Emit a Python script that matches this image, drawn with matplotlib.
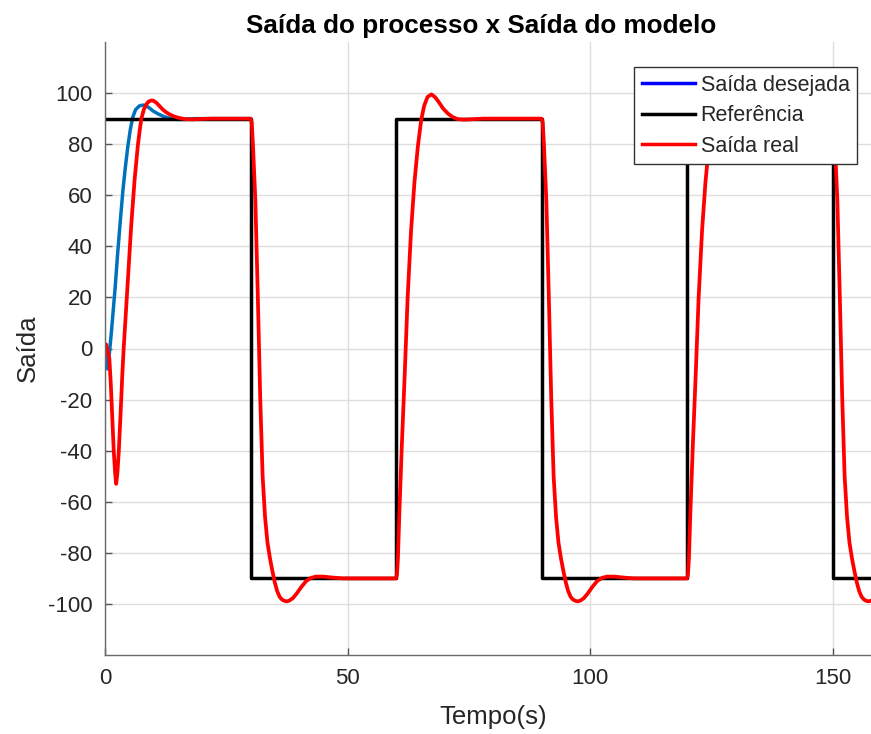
import matplotlib
matplotlib.use("Agg")
import matplotlib.pyplot as plt
from matplotlib.lines import Line2D

plt.rcParams["font.family"] = ["Liberation Sans", "DejaVu Sans"]
plt.rcParams["axes.unicode_minus"] = False

# Reference square wave (step levels, held until the next switch time)
ref_t = [0, 30, 60, 90, 120, 150, 160]
ref_y = [90, -90, 90, -90, 90, -90, -90]

# Desired (model) output during the first interval
desired_t = [0.0, 0.25, 0.5, 0.9, 1.3, 1.7, 2.1, 2.6, 3.2, 3.7, 4.2, 4.7, 5.2,
             5.7, 6.3, 7.1, 7.8, 8.5, 9.2, 9.9, 10.9, 11.9, 13.0, 14.7, 16.5,
             18.5, 30.0]
desired_y = [0.0, -4.5, -8.0, -2.0, 6.0, 15.0, 24.0, 37.0, 51.0, 62.0, 71.0,
             79.0, 85.5, 90.4, 93.5, 95.0, 95.3, 95.0, 94.1, 93.0, 91.9, 91.0,
             90.3, 89.7, 89.7, 90.0, 90.0]

# Process output, one list per reference interval
real_t_0 = [0.0, 0.25, 0.6, 0.9, 1.2, 1.5, 1.8, 2.1, 2.3, 2.55, 2.85, 3.2,
            3.55, 3.85, 4.2, 4.7, 5.1, 5.4, 5.8, 6.1, 6.5, 6.8, 7.2, 7.5,
            8.0, 8.5, 9.0, 9.5, 10.0, 10.6, 11.2, 11.9, 12.6, 13.3, 14.2,
            15.0, 16.5, 18.0, 20.0, 22.0, 30.0]
real_y_0 = [0.0, 1.6, -1.5, -4.0, -14.0, -27.0, -40.0, -49.0, -53.0, -49.0,
            -40.0, -26.0, -11.0, 0.0, 11.0, 26.0, 39.0, 48.0, 58.0, 66.0,
            74.0, 80.0, 86.0, 90.0, 93.5, 95.6, 96.7, 97.1, 97.0, 96.2, 95.0,
            93.6, 92.5, 91.7, 90.9, 90.4, 89.8, 89.7, 89.9, 90.0, 90.0]

real_t_1 = [30.0, 30.25, 30.5, 31.0, 31.5, 32.0, 32.5, 33.0, 33.5, 34.0, 34.5,
            35.0, 35.5, 36.0, 36.5, 37.0, 37.5, 38.0, 38.7, 39.5, 40.5, 41.5,
            42.5, 43.5, 45.0, 47.0, 49.0, 60.0]
real_y_1 = [90.0, 88.5, 80.0, 58.0, 21.0, -19.0, -50.0, -66.0, -76.0, -82.0,
            -87.0, -91.5, -95.0, -97.2, -98.3, -98.8, -99.0, -98.7, -97.8,
            -96.0, -93.3, -91.0, -89.8, -89.3, -89.3, -89.7, -90.0, -90.0]

real_t_2 = [60.0, 60.2, 60.4, 60.7, 61.2, 61.8, 62.4, 63.1, 63.8, 64.5, 65.2,
            65.8, 66.5, 67.3, 68.0, 68.7, 69.7, 70.7, 71.7, 72.7, 74.0, 76.0,
            78.0, 90.0]
real_y_2 = [-90.0, -88.5, -82.0, -64.0, -38.0, -10.0, 20.0, 46.0, 65.0, 79.0,
            89.5, 95.0, 98.5, 99.5, 98.5, 96.8, 94.0, 92.0, 90.6, 89.8, 89.6,
            89.8, 90.0, 90.0]

real_t_3 = [90.0, 90.25, 90.5, 91.0, 91.5, 92.0, 92.5, 93.0, 93.5, 94.0, 94.5,
            95.0, 95.5, 96.0, 96.5, 97.0, 97.5, 98.0, 98.7, 99.5, 100.5, 101.5,
            102.5, 103.5, 105.0, 107.0, 109.0, 120.0]
real_y_3 = [90.0, 88.5, 80.0, 58.0, 21.0, -19.0, -50.0, -66.0, -76.0, -82.0,
            -87.0, -91.5, -95.0, -97.2, -98.3, -98.8, -99.0, -98.7, -97.8,
            -96.0, -93.3, -91.0, -89.8, -89.3, -89.3, -89.7, -90.0, -90.0]

real_t_4 = [120.0, 120.2, 120.4, 120.7, 121.2, 121.8, 122.4, 123.1, 123.8,
            124.5, 125.2, 125.8, 126.5, 127.3, 128.0, 128.7, 129.7, 130.7,
            131.7, 132.7, 134.0, 136.0, 138.0, 150.0]
real_y_4 = [-90.0, -88.5, -82.0, -64.0, -38.0, -10.0, 20.0, 46.0, 65.0, 79.0,
            89.5, 95.0, 98.5, 99.5, 98.5, 96.8, 94.0, 92.0, 90.6, 89.8, 89.6,
            89.8, 90.0, 90.0]

real_t_5 = [150.0, 150.25, 150.5, 151.0, 151.5, 152.0, 152.5, 153.0, 153.5,
            154.0, 154.5, 155.0, 155.5, 156.0, 156.5, 157.0, 157.5, 158.0,
            158.7, 159.5, 160.5]
real_y_5 = [90.0, 88.5, 80.0, 58.0, 21.0, -19.0, -50.0, -66.0, -76.0, -82.0,
            -87.0, -91.5, -95.0, -97.2, -98.3, -98.8, -99.0, -98.7, -97.8,
            -96.0, -93.3]

real_t = real_t_0 + real_t_1 + real_t_2 + real_t_3 + real_t_4 + real_t_5
real_y = real_y_0 + real_y_1 + real_y_2 + real_y_3 + real_y_4 + real_y_5

x_ticks = [0, 50, 100, 150]
y_ticks = [-100, -80, -60, -40, -20, 0, 20, 40, 60, 80, 100]
labels = ["Saída desejada", "Referência", "Saída real"]

W, H = 871, 734
fig = plt.figure(figsize=(W / 100, H / 100), dpi=100)
ax = fig.add_axes([105 / W, 79 / H, 776 / W, 613 / H])

ax.plot(desired_t, desired_y, color="#0072BD", lw=2.5, solid_joinstyle="round")
ax.step(ref_t, ref_y, where="post", color="black", lw=2.5)
ax.plot(real_t, real_y, color="#FF0000", lw=2.7, solid_joinstyle="round")

ax.set_xlim(0, 160)
ax.set_ylim(-120, 120)
ax.set_xticks(x_ticks)
ax.set_yticks(y_ticks)

ax.grid(True, color="#dedede", lw=1.0)
ax.set_axisbelow(True)
for side in ("top", "right"):
    ax.spines[side].set_visible(False)
for side in ("left", "bottom"):
    ax.spines[side].set_color("#6a6a6a")
    ax.spines[side].set_linewidth(1.0)

ax.tick_params(direction="in", length=5, width=1, color="#555555",
               labelsize=16, labelcolor="#262626", pad=9)

ax.set_xlabel("Tempo(s)", fontsize=18.5, color="#262626", labelpad=12)
ax.set_ylabel("Saída", fontsize=18.5, color="#262626", labelpad=6)

fig.text(481 / W, 1 - 26 / H, "Saída do processo x Saída do modelo",
         ha="center", va="center", fontsize=18.8, fontweight="bold",
         color="black")

handles = [Line2D([], [], color="#0000FF", lw=2.5),
           Line2D([], [], color="black", lw=2.5),
           Line2D([], [], color="#FF0000", lw=2.5)]
leg = ax.legend(handles, labels, loc="upper left",
                bbox_to_anchor=(634 / W, 1 - 67 / H),
                bbox_transform=fig.transFigure, borderaxespad=0,
                fontsize=15.5, frameon=True, fancybox=False, framealpha=1,
                edgecolor="#333333", handlelength=2.5, handletextpad=0.25,
                labelspacing=0.45, borderpad=0.35)
leg.get_frame().set_linewidth(1.0)
for t in leg.get_texts():
    t.set_color("#262626")

fig.savefig("out.png", dpi=100)
